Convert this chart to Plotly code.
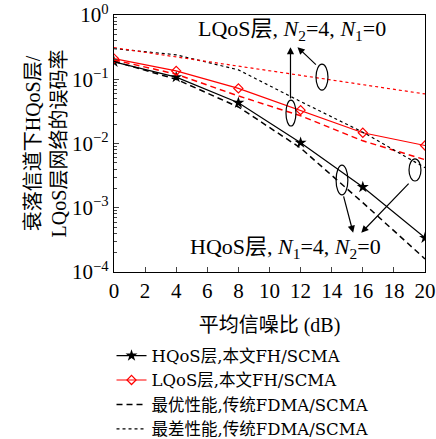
import plotly.graph_objects as go

snr = [0, 4, 8, 12, 16, 20]
hqos_fh = [0.186, 0.108, 0.043, 0.0103, 0.0021, 0.00034]
lqos_fh = [0.21, 0.135, 0.072, 0.033, 0.0147, 0.0093]
best_h = [0.19, 0.10, 0.037, 0.0085, 0.0012, 0.00016]
best_l = [0.20, 0.12, 0.055, 0.027, 0.011, 0.0056]
worst_h = [0.30, 0.24, 0.14, 0.045, 0.015, 0.0042]
worst_l = [0.31, 0.22, 0.16, 0.115, 0.082, 0.059]

xticks = list(range(0, 21, 2))
yvals = [1, 0.1, 0.01, 0.001, 0.0001]
ytext = ["10<sup>0</sup>", "10<sup>−1</sup>", "10<sup>−2</sup>", "10<sup>−3</sup>", "10<sup>−4</sup>"]
yminor = [m * d for d in [1e-4, 1e-3, 1e-2, 1e-1] for m in range(2, 10)]

FONT = "Liberation Serif, Noto Sans CJK SC"
LFONT = "DejaVu Serif, Noto Sans CJK SC"

fig = go.Figure()
fig.add_trace(go.Scatter(x=snr, y=hqos_fh, mode="lines+markers", name="HQoS层,本文FH/SCMA",
                         line=dict(color="black", width=1.2),
                         marker=dict(symbol="star", size=9, color="black")))
fig.add_trace(go.Scatter(x=snr, y=lqos_fh, mode="lines+markers", name="LQoS层,本文FH/SCMA",
                         line=dict(color="red", width=1.2),
                         marker=dict(symbol="diamond-open", size=7, color="red", line=dict(width=1.2))))
fig.add_trace(go.Scatter(x=snr, y=best_h, mode="lines", name="最优性能,传统FDMA/SCMA",
                         line=dict(color="black", width=1.5, dash="6px,4px")))
fig.add_trace(go.Scatter(x=snr, y=best_l, mode="lines", showlegend=False,
                         line=dict(color="red", width=1.5, dash="6px,4px")))
fig.add_trace(go.Scatter(x=snr, y=worst_h, mode="lines", name="最差性能,传统FDMA/SCMA",
                         line=dict(color="black", width=1.2, dash="dot")))
fig.add_trace(go.Scatter(x=snr, y=worst_l, mode="lines", showlegend=False,
                         line=dict(color="red", width=1.2, dash="dot")))

# ellipses in paper coordinates
ellipses = [(0.6495, 0.688, 0.809, 0.708), (0.553, 0.585, 0.669, 0.568),
            (0.714, 0.752, 0.416, 0.300), (0.9486, 0.987, 0.440, 0.354)]
for x0, x1, y0, y1 in ellipses:
    fig.add_shape(type="circle", xref="paper", yref="paper", x0=x0, x1=x1, y0=y0, y1=y1,
                  line=dict(color="black", width=1.2))

arrows = [((11.35, -1.323), (11.35, -0.50)), ((13.08, -0.794), (11.8, -0.50)),
          ((14.74, -2.80), (15.38, -3.39)), ((19.04, -2.60), (15.9, -3.39))]
for (ax_, ay_), (x_, y_) in arrows:
    fig.add_annotation(x=x_, y=y_, ax=ax_, ay=ay_, xref="x", yref="y", axref="x", ayref="y",
                       showarrow=True, arrowhead=2, arrowsize=1.2, arrowwidth=1.2, text="",
                       arrowcolor="black")

fig.add_annotation(x=11.45, y=-0.233, xref="x", yref="y", showarrow=False,
                   text="LQoS层, <i>N</i><sub>2</sub>=4, <i>N</i><sub>1</sub>=0",
                   font=dict(size=22, family=FONT, color="black"))
fig.add_annotation(x=11.06, y=-3.63, xref="x", yref="y", showarrow=False,
                   text="HQoS层, <i>N</i><sub>1</sub>=4, <i>N</i><sub>2</sub>=0",
                   font=dict(size=22, family=FONT, color="black"))

fig.update_layout(
    width=436, height=439,
    margin=dict(l=114, r=11, t=15, b=167, autoexpand=False),
    paper_bgcolor="white", plot_bgcolor="white",
    font=dict(family=FONT, size=19, color="black"),
    showlegend=True,
    legend=dict(x=-0.008, y=-0.258, xanchor="left", yanchor="top",
                font=dict(size=16.5, family=LFONT), tracegroupgap=0,
                bgcolor="rgba(0,0,0,0)", itemwidth=30),
    xaxis=dict(range=[0, 20], tickvals=xticks, ticks="inside", ticklen=5,
               showline=True, linecolor="black", linewidth=1.2, mirror=True,
               showgrid=False, zeroline=False, automargin=False,
               title=dict(text="平均信噪比 (dB)", font=dict(size=20), standoff=15),
               tickfont=dict(size=21)),
    yaxis=dict(type="log", range=[-4, 0], tickvals=yvals, ticktext=ytext,
               ticks="inside", ticklen=5,
               minor=dict(ticks="inside", ticklen=3, tickvals=yminor, showgrid=False),
               showline=True, linecolor="black", linewidth=1.2, mirror=True,
               showgrid=False, zeroline=False, automargin=False,
               title=dict(text="衰落信道下HQoS层/<br>LQoS层网络的误码率", font=dict(size=20), standoff=0),
               tickfont=dict(size=21)),
)

fig.write_html("out.html", config={"displayModeBar": False},
               post_script="document.body.style.margin='0';document.body.style.overflow='hidden';")
